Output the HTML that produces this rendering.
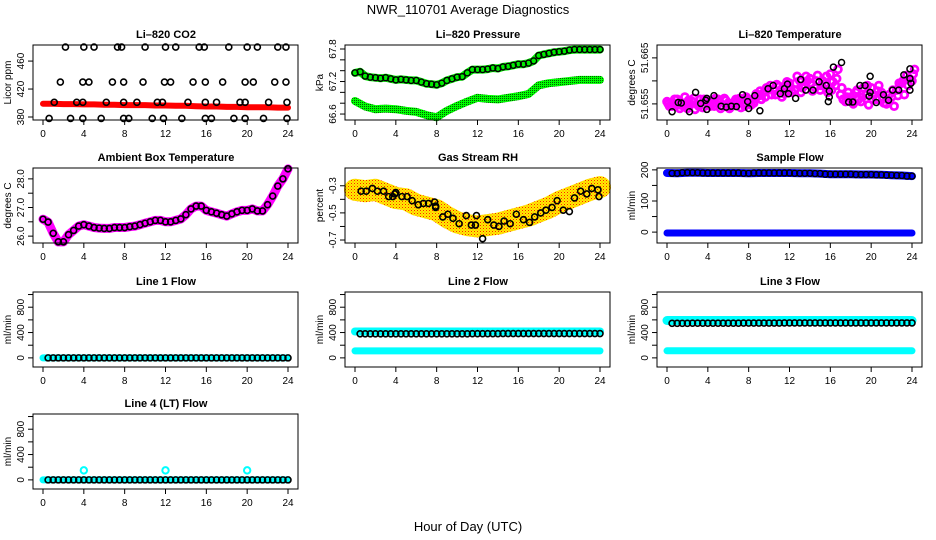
<!DOCTYPE html>
<html><head><meta charset="utf-8"><style>
html,body{margin:0;padding:0;background:#fff}
svg{display:block;font-family:"Liberation Sans",sans-serif}
</style></head><body>
<svg id="s" width="936" height="540" viewBox="0 0 936 540" xmlns="http://www.w3.org/2000/svg">
<defs>
<pattern id="rhdots" width="3" height="3" patternUnits="userSpaceOnUse"><rect width="3" height="3" fill="#ffee00"/><rect width="1" height="1" fill="#ff2000"/><rect x="1.5" y="1.5" width="1" height="1" fill="#ff8000"/></pattern>
<pattern id="gdots" width="2" height="2" patternUnits="userSpaceOnUse"><rect width="2" height="2" fill="#00ff00"/><rect width="1" height="1" fill="#006000"/></pattern>
</defs>
<text x="468" y="14" text-anchor="middle" font-size="13">NWR_110701  Average Diagnostics</text>
<text x="468" y="531" text-anchor="middle" font-size="13">Hour of Day (UTC)</text>
</svg>
<script>
const hoursHalf=[0,0.5,1,1.5,2,2.5,3,3.5,4,4.5,5,5.5,6,6.5,7,7.5,8,8.5,9,9.5,10,10.5,11,11.5,12,12.5,13,13.5,14,14.5,15,15.5,16,16.5,17,17.5,18,18.5,19,19.5,20,20.5,21,21.5,22,22.5,23,23.5,24];
const hoursHourly=[0,1,2,3,4,5,6,7,8,9,10,11,12,13,14,15,16,17,18,19,20,21,22,23,24];
const xTicks=[0,4,8,12,16,20,24];
// CO2
const co2Band=[399,399,398.5,398.5,398,398,397.5,397.5,397,397,397,396.5,396.5,396,396,395.5,395,395,394.5,394.5,394,394,394,393.5,393.5];
const co2Hours480=[2.2,4,5,7.3,7.7,10,12,13,15.3,15.8,18.2,20,21,23,23.8];
const co2Hours430=[1.7,3.9,4.5,6.8,7.9,9.8,11.9,12.5,14.7,15.9,17.6,19.8,20.6,22.7,23.8];
const co2Hours400=[1.1,3.3,3.9,6.2,7.9,9.2,11.2,11.7,14.2,15.9,17,19.3,19.8,22.1,23.9];
const co2Hours378=[0.6,2.7,3.9,5.7,7.9,8.4,10.7,11.8,13.6,15.9,16.5,18.7,19.8,21.6,23.9];
const co2Levels=[480,430,401,378];
const co2Ticks=[380,420,460];
// Pressure
const pressUp=[67.36,67.38,67.3,67.28,67.27,67.26,67.27,67.25,67.23,67.24,67.23,67.22,67.22,67.19,67.16,67.15,67.14,67.17,67.22,67.25,67.28,67.29,67.36,67.42,67.42,67.42,67.43,67.45,67.44,67.47,67.48,67.5,67.52,67.52,67.54,67.58,67.68,67.7,67.72,67.74,67.75,67.76,67.78,67.79,67.79,67.79,67.79,67.79,67.79];
const pressLow=[66.84,66.74,66.69,66.7,66.69,66.66,66.64,66.58,66.54,66.66,66.75,66.83,66.9,66.88,66.87,66.9,66.93,66.97,67.13,67.17,67.19,67.21,67.23,67.23,67.23];
const pressTicks=[66.6,66.8,67.0,67.2,67.4,67.6,67.8];
const pressLabels=[66.6,67.2,67.8];
// Li-820 temperature
const tempA=[51.6555,51.6545,51.6560,51.6550,51.6540,51.6555,51.6548,51.6542,51.6558,51.6550,51.6560,51.6545,51.6552,51.6546,51.6556,51.6550,51.6560,51.6552,51.6568,51.6575,51.6582,51.6578,51.6588,51.6572,51.6595,51.6580,51.6600,51.6590,51.6605,51.6585,51.6580,51.6595,51.6615,51.6590,51.6570,51.6555,51.6565,51.6575,51.6555,51.6570,51.6585,51.6560,51.6575,51.6550,51.6565,51.6580,51.6595,51.6612,51.6600];
const tempB=[51.6545,51.6560,51.6540,51.6565,51.6550,51.6538,51.6560,51.6555,51.6545,51.6562,51.6540,51.6558,51.6545,51.6560,51.6542,51.6565,51.6548,51.6572,51.6560,51.6585,51.6570,51.6592,51.6565,51.6598,51.6575,51.6610,51.6585,51.6600,51.6578,51.6612,51.6600,51.6575,51.6598,51.6625,51.6560,51.6575,51.6550,51.6560,51.6585,51.6548,51.6570,51.6590,51.6552,51.6570,51.6545,51.6595,51.6570,51.6605,51.6625];
const tempC=[51.6550,51.6552,51.6548,51.6545,51.6558,51.6562,51.6545,51.6560,51.6550,51.6545,51.6555,51.6562,51.6540,51.6555,51.6562,51.6545,51.6555,51.6562,51.6578,51.6565,51.6590,51.6570,51.6578,51.6590,51.6585,51.6595,51.6575,51.6610,51.6595,51.6600,51.6590,51.6610,51.6580,51.6605,51.6585,51.6565,51.6558,51.6580,51.6565,51.6590,51.6560,51.6578,51.6565,51.6560,51.6580,51.6568,51.6600,51.6590,51.6615];
const tempBlackH=[0.5,1.1,1.4,2.2,2.8,3.3,3.8,3.9,3.9,4.6,5.3,5.8,6.3,6.8,7.4,7.9,8.0,8.6,9.1,9.9,10.4,11.1,11.5,11.8,11.9,12.6,13.1,13.6,14.3,14.9,15.6,15.9,15.9,15.8,16.3,17.1,17.8,18.2,18.9,19.4,19.9,19.9,19.8,20.5,21.2,21.7,22.1,22.7,23.2,23.8,23.8,23.9,23.8];
const tempBlackV=[51.6533,51.6553,51.6552,51.6533,51.6575,51.6551,51.6558,51.6562,51.6538,51.6568,51.6545,51.6543,51.6545,51.6544,51.6570,51.6555,51.6540,51.6568,51.6535,51.6583,51.6590,51.6572,51.6583,51.6593,51.6572,51.6562,51.6603,51.6580,51.6580,51.6598,51.6590,51.6578,51.6565,51.6555,51.6630,51.6640,51.6554,51.6554,51.6590,51.6590,51.6610,51.6575,51.6567,51.6553,51.6570,51.6558,51.6580,51.6580,51.6613,51.6626,51.6605,51.6595,51.6580];
const tempTicks=[51.655,51.66,51.665];
const tempLabels=[51.655,51.665];
// Ambient box temperature
const ambTemp=[26.59,26.49,26.1,25.8,25.8,26.05,26.2,26.35,26.4,26.35,26.3,26.28,26.27,26.27,26.3,26.3,26.3,26.33,26.35,26.4,26.45,26.5,26.55,26.55,26.5,26.5,26.55,26.6,26.75,26.95,27.05,27.05,26.9,26.85,26.8,26.75,26.7,26.78,26.85,26.9,26.9,26.95,26.88,26.88,27.1,27.4,27.75,28.0,28.35];
const ambTicks=[26.0,26.5,27.0,27.5,28.0];
const ambLabels=["26.0","27.0","28.0"];
// Gas stream RH
const rhBand=[-0.33,-0.34,-0.33,-0.36,-0.39,-0.40,-0.44,-0.46,-0.48,-0.53,-0.57,-0.59,-0.60,-0.59,-0.58,-0.56,-0.54,-0.52,-0.49,-0.46,-0.42,-0.39,-0.36,-0.33,-0.31];
const rhBlackH=[0.6,1.1,1.7,2.2,2.8,3.3,3.7,3.9,4,4.6,5.1,5.6,6.2,6.7,7.2,7.8,7.9,7.9,8.6,9.1,9.6,10.2,10.9,11.4,11.8,11.9,12.5,13,13.6,14.1,14.6,15.2,15.8,16.5,17.1,17.6,18.2,18.7,19.3,19.8,20.4,21,21.5,22.1,22.7,23.2,23.8,23.9];
const rhBlackV=[-0.34,-0.34,-0.32,-0.34,-0.34,-0.38,-0.38,-0.36,-0.35,-0.38,-0.38,-0.41,-0.44,-0.43,-0.43,-0.42,-0.46,-0.45,-0.53,-0.51,-0.54,-0.58,-0.52,-0.59,-0.59,-0.52,-0.69,-0.55,-0.59,-0.60,-0.56,-0.58,-0.51,-0.55,-0.57,-0.53,-0.50,-0.48,-0.46,-0.41,-0.48,-0.49,-0.39,-0.34,-0.36,-0.32,-0.33,-0.38];
const rhTicks=[-0.3,-0.4,-0.5,-0.6,-0.7];
const rhLabels=[-0.3,-0.5,-0.7];
// Sample flow
const sampleHigh=[190,189,191,191,190,190,190,190,189,190,190,190,190,189,189,188,186,186,186,185,185,184,183,182,180];
const sampleLow=[-3,-3,-3,-3,-3,-3,-3,-3,-3,-3,-3,-3,-3,-3,-3,-3,-3,-3,-3,-3,-3,-3,-3,-3,-3];
const sampleTicks=[0,50,100,150,200];
const sampleLabels=[0,100,200];
// Line flows
const flowTicks=[0,200,400,600,800,1000];
const flowLabels=[0,400,800];
const line1Cyan=[0,0,0,0,0,0,0,0,0,0,0,0,0,0,0,0,0,0,0,0,0,0,0,0,0];
const line1Black=[0,0,0,0,0,0,0,0,0,0,0,0,0,0,0,0,0,0,0,0,0,0,0,0,0];
const line2CyanHigh=[416,416,416,416,416,416,416,416,416,416,416,416,416,416,416,416,416,416,416,416,416,416,416,416,416];
const line2CyanLow=[110,110,110,110,110,110,110,110,110,110,110,110,110,110,110,110,110,110,110,110,110,110,110,110,110];
const line2Black=[380,380,380,380,380,380,380,380,380,380,380,380,382,382,382,384,384,384,384,384,384,384,384,384,384];
const line3CyanHigh=[590,590,590,590,590,590,590,590,590,590,590,590,590,590,590,590,590,590,590,590,590,590,590,590,590];
const line3CyanLow=[112,112,112,112,112,112,112,112,112,112,112,112,112,112,112,112,112,112,112,112,112,112,112,112,112];
const line3Black=[545,545,545,548,548,548,548,548,550,550,550,550,552,552,552,552,552,552,552,552,552,552,552,552,552];
const line4Cyan=[0,0,0,0,0,0,0,0,0,0,0,0,0,0,0,0,0,0,0,0,0,0,0,0,0];
const line4SpikeH=[4,12,20];
const line4SpikeV=[150,150,150];
const line4Black=[0,0,0,0,0,0,0,0,0,0,0,0,0,0,0,0,0,0,0,0,0,0,0,0,0];

const NS='http://www.w3.org/2000/svg';
const svg=document.getElementById('s');
function mk(parent,tag,attrs,name){
  const el=document.createElementNS(NS,tag);
  for(const k in attrs) el.setAttribute(k,attrs[k]);
  
  
  parent.appendChild(el);
  return el;
}
const colX=[0,312,624], rowTop=[45,168,292,414];
function panel(name,title,ylab,col,row,ymin,ymax,ticks,labels){
  const g=mk(svg,'g',{},name);
  const L=colX[col]+33,R=colX[col]+298,T=rowTop[row],B=T+75;
  const xs=h=>colX[col]+43+h*(245/24);
  const ys=v=>B-(v-ymin)/(ymax-ymin)*75;
  const marks=mk(g,'g',{},name+'-marks');
  mk(g,'rect',{x:L,y:T,width:R-L,height:B-T,fill:'none',stroke:'#000','stroke-width':1},name+'-plot-box');
  const t=mk(g,'text',{x:colX[col]+166,y:T-7,'text-anchor':'middle','font-size':11,'font-weight':'bold'},name+'-title');t.textContent=title;
  const yl=mk(g,'text',{x:0,y:0,'text-anchor':'middle','font-size':10,transform:`translate(${colX[col]+11},${(T+B)/2}) rotate(-90)`},name+'-y-axis-title');yl.textContent=ylab;
  xTicks.forEach(h=>{
    mk(g,'line',{x1:xs(h),x2:xs(h),y1:B,y2:B+5,stroke:'#000'},name+'-x-tick');
    const tx=mk(g,'text',{x:xs(h),y:B+17,'text-anchor':'middle','font-size':10},name+'-x-tick-label');tx.textContent=h;
  });
  ticks.forEach(v=>{mk(g,'line',{x1:L-5,x2:L,y1:ys(v),y2:ys(v),stroke:'#000'},name+'-y-tick');});
  labels.forEach(v=>{
    const num=typeof v==='string'?parseFloat(v):v;
    const ty=mk(g,'text',{x:0,y:0,'text-anchor':'middle','font-size':10,transform:`translate(${L-9},${ys(num)}) rotate(-90)`},name+'-y-tick-label');ty.textContent=v;
  });
  return {marks,xs,ys};
}
function band(p,hs,vals,color,w,name){
  const pts=hs.map((h,i)=>p.xs(h).toFixed(1)+','+p.ys(vals[i]).toFixed(1)).join(' ');
  mk(p.marks,'polyline',{points:pts,fill:'none',stroke:color,'stroke-width':w,'stroke-linejoin':'round','stroke-linecap':'round'},name);
}
function circles(p,hs,vals,color,r,sw,name){
  hs.forEach((h,i)=>{mk(p.marks,'circle',{cx:p.xs(h),cy:p.ys(vals[i]),r:r,fill:'none',stroke:color,'stroke-width':sw},name);});
}
function constH(arr,v){return arr.map(()=>v);}
const circHours=hoursHalf.slice(1);
function sampleAt(vals,hs){return hs.map(h=>vals[Math.round(h)]);}

// CO2
let p=panel('co2-panel','Li\u2013820 CO2','Licor ppm',0,0,375.7,483,co2Ticks,co2Ticks);
band(p,hoursHourly,co2Band,'#ff0000',6,'co2-band');
circles(p,co2Hours480,constH(co2Hours480,co2Levels[0]),'#000',3,1.6,'co2-point');
circles(p,co2Hours430,constH(co2Hours430,co2Levels[1]),'#000',3,1.6,'co2-point');
circles(p,co2Hours400,constH(co2Hours400,co2Levels[2]),'#000',3,1.6,'co2-point');
circles(p,co2Hours378,constH(co2Hours378,co2Levels[3]),'#000',3,1.6,'co2-point');
// Pressure
p=panel('pressure-panel','Li\u2013820 Pressure','kPa',1,0,66.49,67.874,pressTicks,pressLabels);
band(p,hoursHourly,pressLow,'url(#gdots)',8,'pressure-low-band');
band(p,hoursHalf,pressUp,'#00ee00',8,'pressure-high-band');
circles(p,hoursHalf,pressUp,'#000',3,1.4,'pressure-point');
// Temperature
p=panel('li820-temp-panel','Li\u2013820 Temperature','degrees C',2,0,51.6515,51.6678,tempTicks,tempLabels);
circles(p,hoursHalf,tempA,'#ff00ff',3.4,2.8,'temp-magenta-point');
circles(p,hoursHalf.map(h=>h+0.25),tempB,'#ff00ff',3.4,2.8,'temp-magenta-point');
circles(p,hoursHalf.map(h=>h+0.12),tempC,'#ff00ff',3.4,2.8,'temp-magenta-point');
circles(p,tempBlackH,tempBlackV,'#000',3,1.5,'temp-black-point');
// Ambient
p=panel('ambient-temp-panel','Ambient Box Temperature','degrees C',0,1,25.76,28.38,ambTicks,ambLabels);
band(p,hoursHalf,ambTemp,'#ff00ff',9,'ambient-band');
circles(p,hoursHalf,ambTemp,'#000',3,1.6,'ambient-point');
// RH
p=panel('rh-panel','Gas Stream RH','percent',1,1,-0.722,-0.169,rhTicks,rhLabels);
band(p,hoursHourly,rhBand,'url(#rhdots)',22,'rh-band');
circles(p,rhBlackH,rhBlackV,'#000',3,1.6,'rh-point');
// Sample flow
p=panel('sample-flow-panel','Sample Flow','ml/min',2,1,-35,206,sampleTicks,sampleLabels);
band(p,hoursHourly,sampleHigh,'#0000ff',8,'sample-flow-high-band');
band(p,hoursHourly,sampleLow,'#0000ff',7,'sample-flow-low-band');
circles(p,circHours,sampleAt(sampleHigh,circHours),'#000',3,1.4,'sample-flow-point');
// Line 1
p=panel('line1-flow-panel','Line 1 Flow','ml/min',0,2,-144,1040,flowTicks,flowLabels);
band(p,hoursHourly,line1Cyan,'#00ffff',7,'line1-cyan-band');
circles(p,circHours,sampleAt(line1Black,circHours),'#000',3,1.6,'line1-point');
// Line 2
p=panel('line2-flow-panel','Line 2 Flow','ml/min',1,2,-144,1040,flowTicks,flowLabels);
band(p,hoursHourly,line2CyanHigh,'#00ffff',8,'line2-cyan-high-band');
band(p,hoursHourly,line2CyanLow,'#00ffff',7,'line2-cyan-low-band');
circles(p,circHours,sampleAt(line2Black,circHours),'#000',3,1.6,'line2-point');
// Line 3
p=panel('line3-flow-panel','Line 3 Flow','ml/min',2,2,-144,1040,flowTicks,flowLabels);
band(p,hoursHourly,line3CyanHigh,'#00ffff',9,'line3-cyan-high-band');
band(p,hoursHourly,line3CyanLow,'#00ffff',7,'line3-cyan-low-band');
circles(p,circHours,sampleAt(line3Black,circHours),'#000',3,1.6,'line3-point');
// Line 4
p=panel('line4-flow-panel','Line 4 (LT) Flow','ml/min',0,3,-144,1040,flowTicks,flowLabels);
band(p,hoursHourly,line4Cyan,'#00ffff',7,'line4-cyan-band');
circles(p,line4SpikeH,line4SpikeV,'#00ffff',3.2,2,'line4-spike-point');
circles(p,circHours,sampleAt(line4Black,circHours),'#000',3,1.6,'line4-point');
</script>
</body></html>
